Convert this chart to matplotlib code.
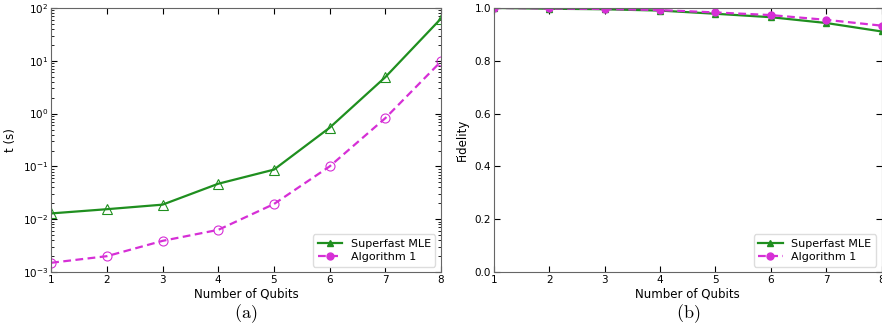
import numpy as np
import matplotlib
matplotlib.use("Agg")
import matplotlib.pyplot as plt
from matplotlib.lines import Line2D

plt.rcParams['mathtext.fontset'] = 'cm'

qubits = [1, 2, 3, 4, 5, 6, 7, 8]
# runtime (s)
t_superfast = [0.0129, 0.0155, 0.0189, 0.047, 0.087, 0.54, 4.9, 63]
t_alg1 = [0.0015, 0.0020, 0.0039, 0.0063, 0.0194, 0.10, 0.82, 9.7]
# fidelity
f_superfast = [1.0, 0.997, 0.995, 0.99, 0.978, 0.965, 0.943, 0.911]
f_alg1 = [1.0, 0.998, 0.996, 0.992, 0.983, 0.973, 0.955, 0.933]

green = '#1f8f1f'
mag = '#d62fd6'

fig = plt.figure(figsize=(8.82, 3.31), dpi=100)
ax1 = fig.add_axes([0.058, 0.178, 0.442, 0.798])
ax2 = fig.add_axes([0.560, 0.178, 0.4395, 0.798])

# (a) runtime, log scale, hollow markers
ax1.plot(qubits, t_superfast, '-', color=green, lw=1.6, marker='^', ms=6.5,
         mfc='none', mec=green, mew=0.8)
ax1.plot(qubits, t_alg1, '--', color=mag, lw=1.6, marker='o', ms=6.5,
         mfc='none', mec=mag, mew=0.8, dashes=(3.5, 2))
ax1.set_yscale('log')
ax1.set_ylim(1e-3, 1e2)
ax1.set_ylabel('t (s)', fontsize=8.5)

# (b) fidelity
ax2.plot(qubits, f_superfast, '-', color=green, lw=1.6, marker='^', ms=5)
ax2.plot(qubits, f_alg1, '--', color=mag, lw=1.6, marker='o', ms=5, dashes=(3.5, 2))
ax2.set_ylim(0, 1.0)
ax2.set_ylabel('Fidelity', fontsize=8.5)

handles = [Line2D([], [], color=green, ls='-', lw=1.6, marker='^', ms=5),
           Line2D([], [], color=mag, ls='--', lw=1.6, marker='o', ms=5, dashes=(3.5, 2))]
labels = ['Superfast MLE', 'Algorithm 1']

for ax, cap in [(ax1, '(a)'), (ax2, '(b)')]:
    ax.set_xlim(1, 8)
    ax.set_xticks(qubits)
    ax.set_xlabel('Number of Qubits', fontsize=8.5, labelpad=2)
    ax.tick_params(which='both', direction='in', top=True, right=True, labelsize=7.5, pad=2)
    ax.tick_params(which='major', length=4)
    ax.tick_params(which='minor', length=2)
    for s in ax.spines.values():
        s.set_color('#666666')
    ax.legend(handles, labels, loc='lower right', fontsize=8, framealpha=1,
              edgecolor='#dddddd', handlelength=2.2, borderpad=0.4, labelspacing=0.3)
    ax.text(0.5, -0.115, r'$\mathrm{' + cap + '}$', transform=ax.transAxes,
            ha='center', va='top', fontsize=13)

fig.savefig('out.png', dpi=100)
